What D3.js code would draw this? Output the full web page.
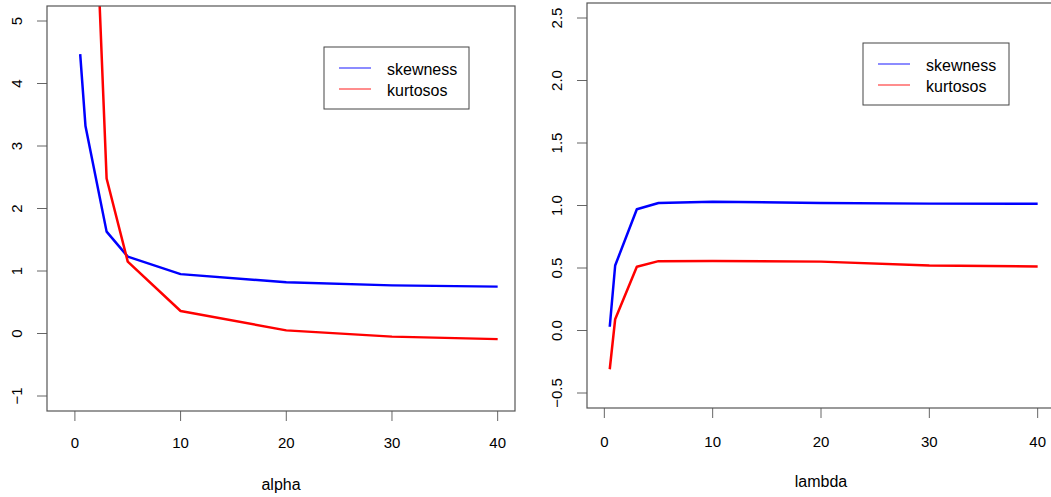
<!DOCTYPE html>
<html>
<head>
<meta charset="utf-8">
<script src="https://cdn.jsdelivr.net/npm/d3@7"></script>
<style>
  body { margin: 0; background: #fff; }
  text { font-family: "Liberation Sans", Arial, sans-serif; fill: #000; }
</style>
</head>
<body>
<div id="chart-area"></div>
<script>
// data
var alphaX = [0.5, 1, 3, 5, 10, 20, 30, 40];
var alphaSkew = [4.47, 3.32, 1.63, 1.23, 0.95, 0.82, 0.77, 0.75];
var alphaKurt = [22, 10.9, 2.48, 1.15, 0.36, 0.05, -0.05, -0.09];

var lambdaX = [0.5, 1, 3, 5, 10, 20, 30, 40];
var lambdaSkew = [0.03, 0.52, 0.97, 1.02, 1.03, 1.02, 1.015, 1.014];
var lambdaKurt = [-0.31, 0.09, 0.51, 0.555, 0.557, 0.551, 0.52, 0.512];

var xTicks = [0, 10, 20, 30, 40];
var leftYTicks = [-1, 0, 1, 2, 3, 4, 5];
var rightYTicks = [-0.5, 0, 0.5, 1, 1.5, 2, 2.5];
var seriesNames = ["skewness", "kurtosos"];
var seriesColors = ["#0000ff", "#ff0000"];

var svgWidth = 1051, svgHeight = 497;

var svg = d3.select("#chart-area")
            .append("svg")
            .attr("width", svgWidth)
            .attr("height", svgHeight);

var panels = [
  { id: "a", box: { left: 47, right: 515, top: 6, bottom: 411 },
    xDomain: [-2.64, 41.64], yDomain: [-1.24, 5.24],
    yTicks: leftYTicks, yFormat: d3.format("d"),
    x: alphaX, series: [alphaSkew, alphaKurt], label: "alpha",
    yLabelX: 17, xTickY: 448, xLabelY: 490,
    legend: { x: 324, y: 47, w: 145, h: 62 } },
  { id: "b", box: { left: 587, right: 1055, top: 3, bottom: 408 },
    xDomain: [-1.6, 41.6], yDomain: [-0.62, 2.62],
    yTicks: rightYTicks, yFormat: d3.format(".1f"),
    x: lambdaX, series: [lambdaSkew, lambdaKurt], label: "lambda",
    yLabelX: 557, xTickY: 447, xLabelY: 487,
    legend: { x: 863, y: 43, w: 146, h: 62 } }
];

panels.forEach(function(p) {
  var x = d3.scaleLinear().domain(p.xDomain).range([p.box.left, p.box.right]);
  var y = d3.scaleLinear().domain(p.yDomain).range([p.box.bottom, p.box.top]);
  var g = svg.append("g");

  g.append("clipPath").attr("id", "clip-" + p.id)
   .append("rect")
   .attr("x", p.box.left).attr("y", p.box.top)
   .attr("width", p.box.right - p.box.left)
   .attr("height", p.box.bottom - p.box.top);

  // y axis ticks
  var yAxis = g.append("g");
  yAxis.selectAll("line").data(p.yTicks).enter().append("line")
       .attr("x1", p.box.left - 10).attr("x2", p.box.left)
       .attr("y1", function(d) { return y(d); })
       .attr("y2", function(d) { return y(d); })
       .attr("stroke", "#666").attr("stroke-width", 1);
  yAxis.selectAll("text").data(p.yTicks).enter().append("text")
       .attr("transform", function(d) {
         return "translate(" + (p.yLabelX + 5) + "," + y(d) + ") rotate(-90)";
       })
       .attr("text-anchor", "middle")
       .style("font-size", "15px")
       .text(function(d) { return p.yFormat(d).replace("-", "\u2212"); });

  // x axis ticks
  var xAxis = g.append("g");
  xAxis.selectAll("line").data(xTicks).enter().append("line")
       .attr("x1", function(d) { return x(d); })
       .attr("x2", function(d) { return x(d); })
       .attr("y1", p.box.bottom).attr("y2", p.box.bottom + 10)
       .attr("stroke", "#666").attr("stroke-width", 1);
  xAxis.selectAll("text").data(xTicks).enter().append("text")
       .attr("x", function(d) { return x(d); })
       .attr("y", p.xTickY)
       .attr("text-anchor", "middle")
       .style("font-size", "15px")
       .text(function(d) { return d; });

  g.append("text")
   .attr("x", (p.box.left + p.box.right) / 2)
   .attr("y", p.xLabelY)
   .attr("text-anchor", "middle")
   .style("font-size", "16px")
   .text(p.label);

  // lines
  var line = d3.line()
               .x(function(d, i) { return x(p.x[i]); })
               .y(function(d) { return y(d); });
  p.series.forEach(function(s, k) {
    g.append("path")
     .datum(s)
     .attr("clip-path", "url(#clip-" + p.id + ")")
     .attr("fill", "none")
     .attr("stroke", seriesColors[k])
     .attr("stroke-width", 2.5)
     .attr("stroke-linejoin", "round")
     .attr("d", line);
  });

  // box
  g.append("rect")
   .attr("x", p.box.left).attr("y", p.box.top)
   .attr("width", p.box.right - p.box.left)
   .attr("height", p.box.bottom - p.box.top)
   .attr("fill", "none").attr("stroke", "#555").attr("stroke-width", 1.2);

  // legend
  var lg = g.append("g").attr("transform", "translate(" + p.legend.x + "," + p.legend.y + ")");
  lg.append("rect")
    .attr("width", p.legend.w).attr("height", p.legend.h)
    .attr("fill", "#fff").attr("stroke", "#444").attr("stroke-width", 1);
  seriesNames.forEach(function(name, k) {
    lg.append("line")
      .attr("x1", 15).attr("x2", 47)
      .attr("y1", 21 + k * 21).attr("y2", 21 + k * 21)
      .attr("stroke", seriesColors[k]).attr("stroke-width", 1.2)
      .attr("opacity", 0.75);
    lg.append("text")
      .attr("x", 63).attr("y", 27.5 + k * 21)
      .style("font-size", "16px")
      .text(name);
  });
});
</script>
</body>
</html>
